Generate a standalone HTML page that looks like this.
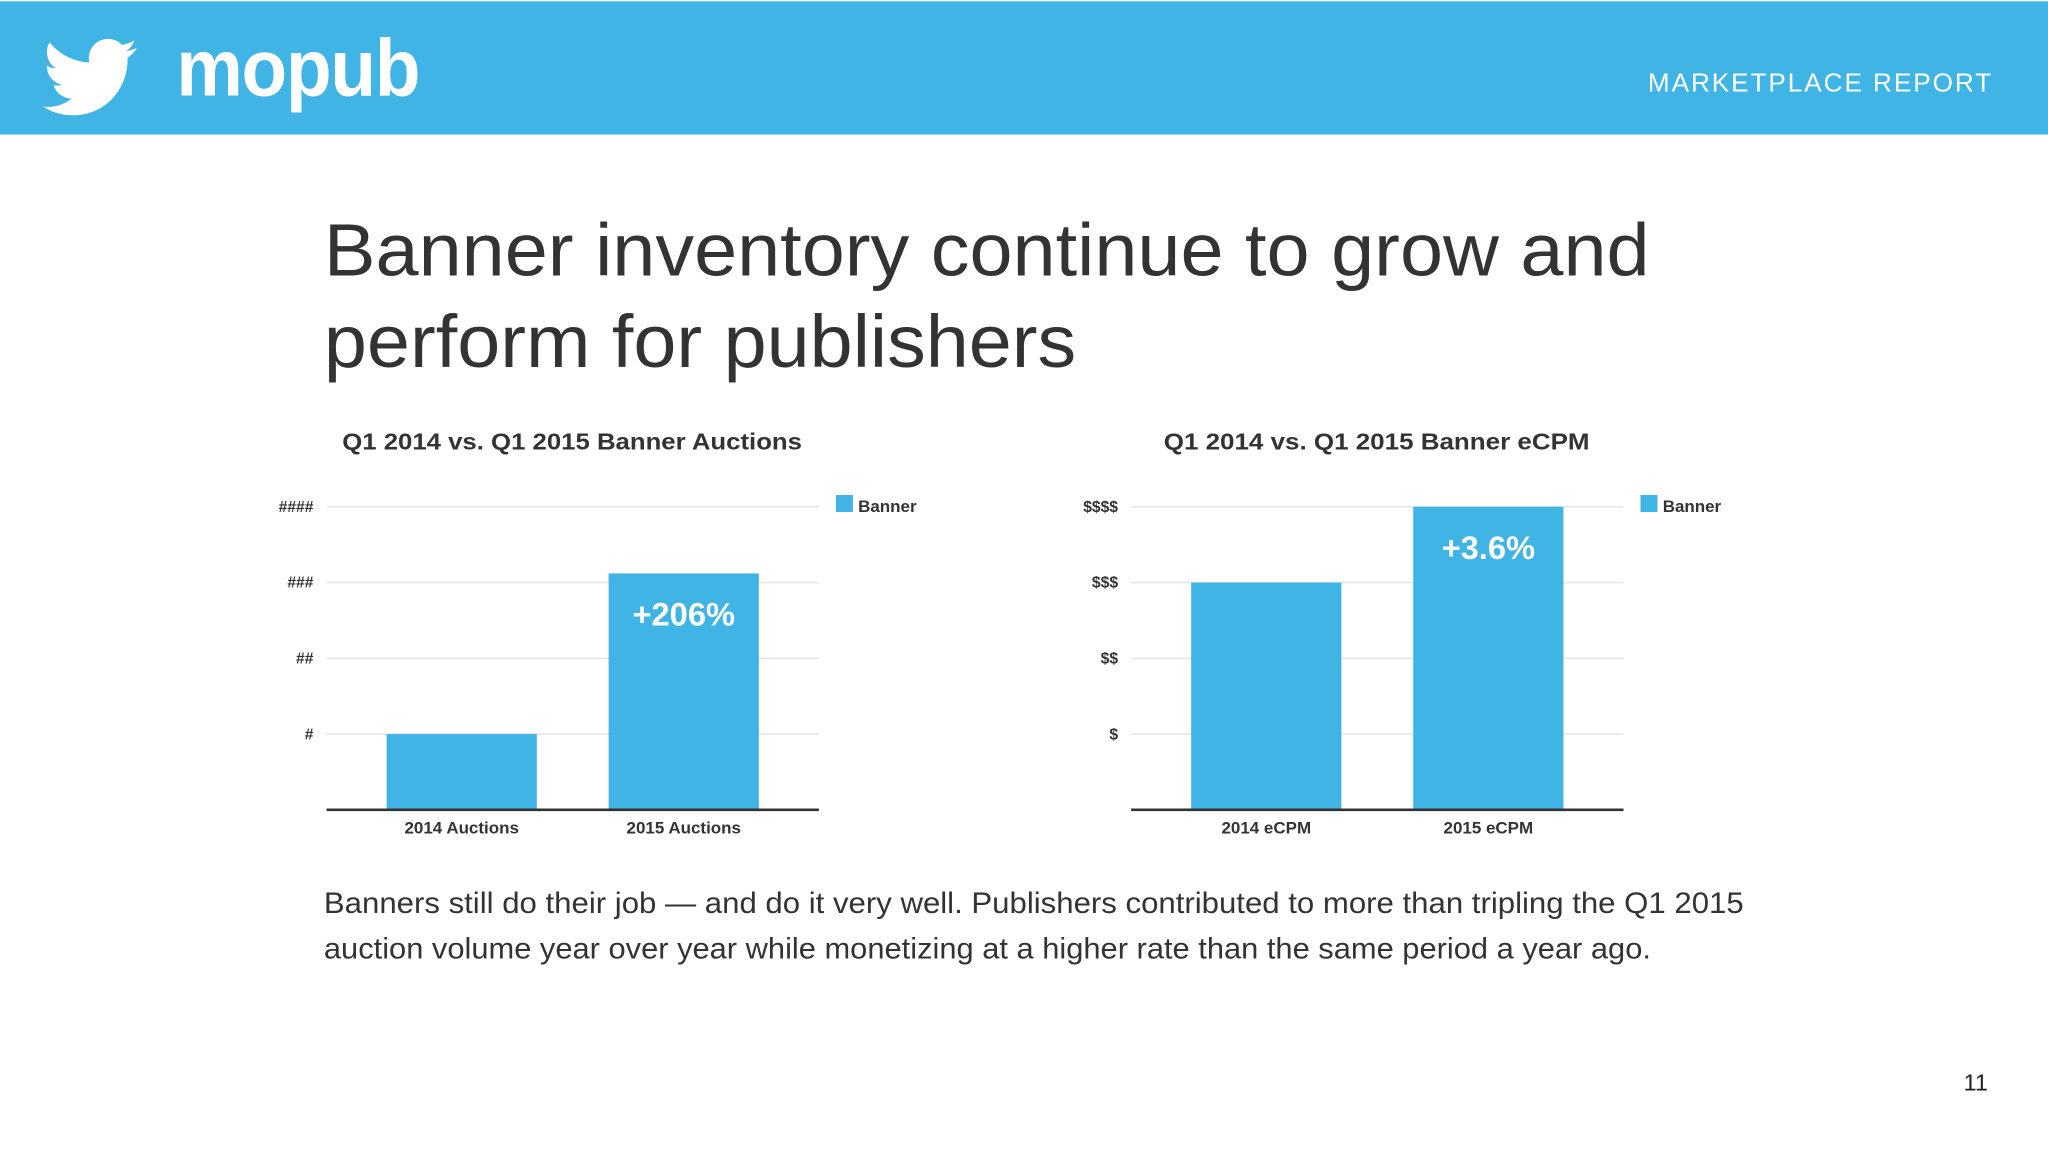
<!DOCTYPE html>
<html><head><meta charset="utf-8"><style>
html,body{margin:0;padding:0;background:#fff;width:2048px;height:1152px;overflow:hidden}
svg{display:block}
text{font-family:"Liberation Sans",Arial,sans-serif}
</style></head><body>
<svg id="slide" width="2048" height="1152" viewBox="0 0 1568 880" xmlns="http://www.w3.org/2000/svg">
<rect x="0" y="0" width="1568" height="102" fill="#40b4e5"/>
<g transform="translate(33,22) scale(3.0)">
<path fill="#fff" d="M23.953 4.57a10 10 0 01-2.825.775 4.958 4.958 0 002.163-2.723c-.951.555-2.005.959-3.127 1.184a4.92 4.92 0 00-8.384 4.482C7.69 8.095 4.067 6.13 1.64 3.162a4.822 4.822 0 00-.666 2.475c0 1.71.87 3.213 2.188 4.096a4.904 4.904 0 01-2.228-.616v.06a4.923 4.923 0 003.946 4.827 4.996 4.996 0 01-2.212.085 4.936 4.936 0 004.604 3.417 9.867 9.867 0 01-6.102 2.105c-.39 0-.779-.023-1.17-.067a13.995 13.995 0 007.557 2.209c9.053 0 13.998-7.496 13.998-13.985 0-.21 0-.42-.015-.63A9.935 9.935 0 0024 4.59z"/>
</g>
<text x="135" y="72" fill="#fff" font-size="62" font-weight="bold" letter-spacing="-1" textLength="186" lengthAdjust="spacingAndGlyphs">mopub</text>
<text x="1526" y="69" text-anchor="end" fill="#fff" font-size="20" letter-spacing="1.5">MARKETPLACE REPORT</text>
<text fill="#333" font-size="57" x="248" y="210" textLength="1015" lengthAdjust="spacingAndGlyphs">Banner inventory continue to grow and</text>
<text fill="#333" font-size="57" x="248" y="280" textLength="576" lengthAdjust="spacingAndGlyphs">perform for publishers</text>
<g id="chart1"></g>
<g id="chart2"></g>
<text fill="#333" font-size="23" x="248" y="698" textLength="1087" lengthAdjust="spacingAndGlyphs">Banners still do their job — and do it very well. Publishers contributed to more than tripling the Q1 2015</text>
<text fill="#333" font-size="23" x="248" y="733" textLength="1016" lengthAdjust="spacingAndGlyphs">auction volume year over year while monetizing at a higher rate than the same period a year ago.</text>
<text fill="#222" font-size="18" x="1522" y="834" text-anchor="end">11</text>
</svg>
<script>
const auctionCategories = ["2014 Auctions", "2015 Auctions"];
const auctionValues = [1, 3.12];
const auctionTicks = ["#", "##", "###", "####"];
const auctionLabels = ["", "+206%"];
const ecpmCategories = ["2014 eCPM", "2015 eCPM"];
const ecpmValues = [3, 4];
const ecpmTicks = ["$", "$$", "$$$", "$$$$"];
const ecpmLabels = ["", "+3.6%"];
const NS = "http://www.w3.org/2000/svg";
function mk(parent, tag, attrs, txt){
  const e = document.createElementNS(NS, tag);
  for (const k in attrs) e.setAttribute(k, attrs[k]);
  if (txt !== undefined) e.textContent = txt;
  parent.appendChild(e);
  return e;
}
function drawChart(g, x0, title, titleW, cats, vals, ticks, labels){
  const x1 = x0 + 377, base = 619, unit = 58;
  const y = v => base - v * unit;
  const t = mk(g, "text", {x: x0 + 188, y: 343, "text-anchor": "middle", "font-size": 18, "font-weight": "bold", fill: "#333", textLength: titleW, lengthAdjust: "spacingAndGlyphs"}, title);
  
  
  ticks.forEach((lab, i) => {
    const gl = mk(g, "line", {x1: x0, x2: x1, y1: y(i + 1), y2: y(i + 1), stroke: "#e6e6e6", "stroke-width": 1.2});
    
    
    const tl = mk(g, "text", {x: x0 - 10, y: y(i + 1) + 4, "text-anchor": "end", "font-size": 12, "font-weight": "bold", fill: "#333"}, lab);
    
    
  });
  const slot = 170, bw = 115;
  cats.forEach((c, i) => {
    const cx = x0 + 103.5 + i * slot;
    const b = mk(g, "rect", {x: cx - bw / 2, y: y(vals[i]), width: bw, height: base - y(vals[i]), fill: "#40b4e5"});
    
    
    const cl = mk(g, "text", {x: cx, y: 637, "text-anchor": "middle", "font-size": 13, "font-weight": "bold", fill: "#333"}, c);
    
    
    if (labels[i]) {
      const vl = mk(g, "text", {x: cx, y: y(vals[i]) + 40, "text-anchor": "middle", "font-size": 25, "font-weight": "bold", fill: "#fff"}, labels[i]);
      
      
    }
  });
  const ax = mk(g, "line", {x1: x0, x2: x1, y1: base, y2: base, stroke: "#333", "stroke-width": 2});
  
  
  const ls = mk(g, "rect", {x: x1 + 13, y: 378, width: 13, height: 13, fill: "#40b4e5"});
  
  
  const lt = mk(g, "text", {x: x1 + 30, y: 391, "font-size": 13, "font-weight": "bold", fill: "#333"}, "Banner");
  
  
}
drawChart(document.getElementById("chart1"), 250, "Q1 2014 vs. Q1 2015 Banner Auctions", 352, auctionCategories, auctionValues, auctionTicks, auctionLabels);
drawChart(document.getElementById("chart2"), 866, "Q1 2014 vs. Q1 2015 Banner eCPM", 326, ecpmCategories, ecpmValues, ecpmTicks, ecpmLabels);
</script>
</body></html>
